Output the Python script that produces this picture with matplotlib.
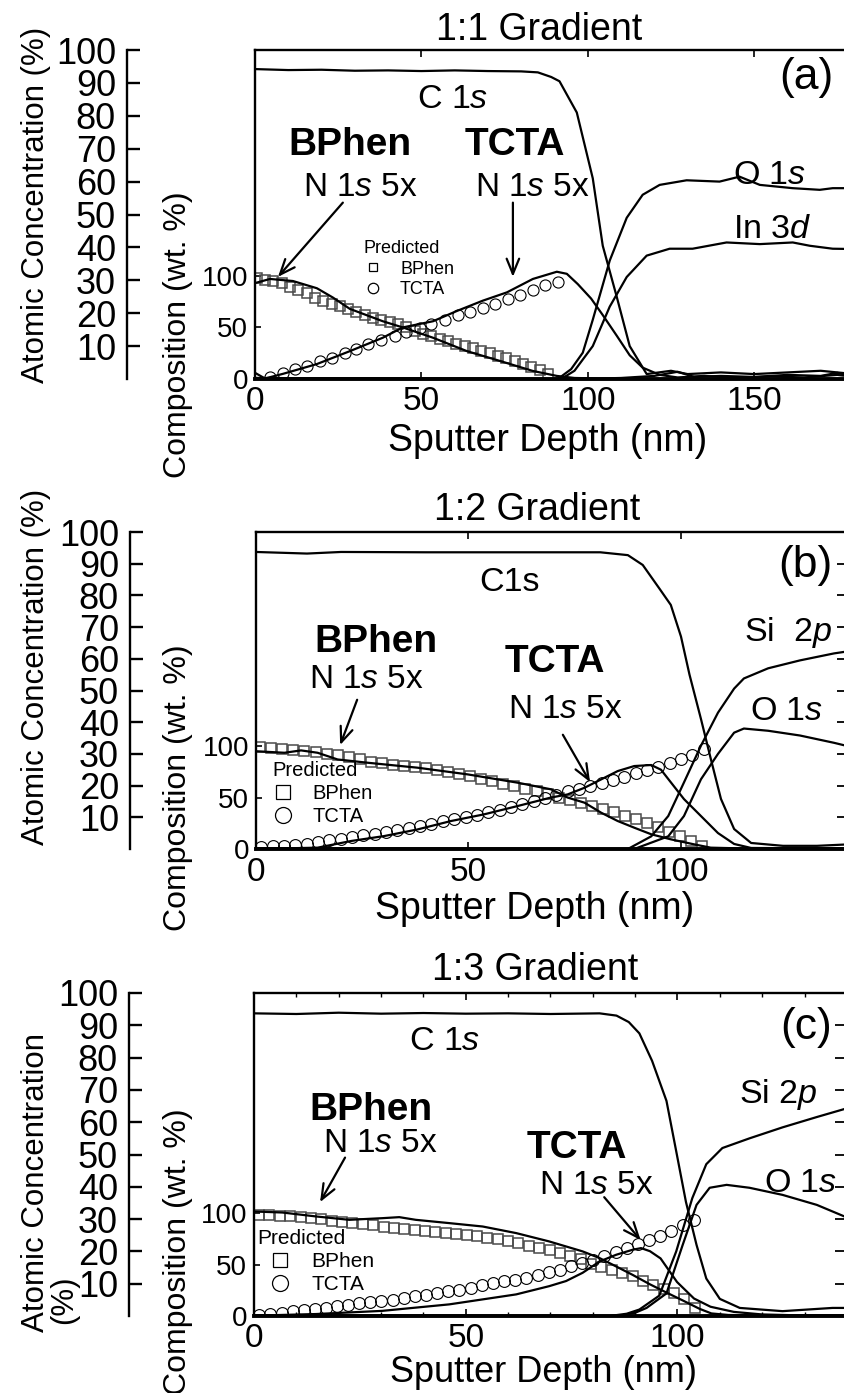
import matplotlib
matplotlib.use('Agg')
import matplotlib.pyplot as plt
from matplotlib.lines import Line2D

plt.rcParams['font.family'] = ['Liberation Sans', 'DejaVu Sans']
plt.rcParams['mathtext.fontset'] = 'custom'
plt.rcParams['mathtext.rm'] = 'Liberation Sans'
plt.rcParams['mathtext.it'] = 'Liberation Sans:italic'
plt.rcParams['mathtext.bf'] = 'Liberation Sans:bold'

# ---------------- panel (a): 1:1 gradient ----------------
# atomic concentration (%) curves
depth_c1s_a = [0, 10, 20, 30, 40, 50, 60, 70, 80, 85, 89, 91.5, 96.7, 101.5, 104.5, 108.7, 112.6, 117.7, 125, 130, 140, 150, 160, 170, 180]
c1s_a = [94.2, 93.9, 94.0, 93.7, 93.8, 93.6, 93.8, 93.6, 93.5, 93.2, 91.8, 90.5, 81, 61, 40.5, 25, 10, 1.5, 2.5, 1.5, 2, 1.5, 2, 2.5, 1.5]
depth_o1s_a = [0, 91, 95, 98.5, 101.5, 106.6, 111.7, 116.5, 121.6, 129.7, 139.6, 145.6, 151.7, 161.6, 169.7, 173.6, 180]
o1s_a = [0.3, 0, 3, 8, 18, 36, 49, 56, 59, 60.4, 60, 61.5, 59, 58, 57.5, 58, 58]
depth_in3d_a = [0, 92, 96, 101.5, 106.6, 111.7, 117.7, 124.6, 131.5, 141.7, 151.7, 161.6, 166.7, 173.6, 180]
in3d_a = [0.3, 0, 2.5, 10, 22, 31, 37.5, 39.6, 39.6, 41.5, 41, 41.5, 40.5, 39.6, 39.5]
# composition (wt. %) curves, N 1s x5
depth_bphen_a = [0, 4.5, 11.4, 18.6, 23.4, 28.5, 38.4, 44.4, 53.5, 63.7, 73.6, 83.5, 90.7, 96, 103.6, 110, 120, 127, 132, 140, 150, 160, 170, 175, 180]
bphen_a = [93, 97, 95, 88, 79, 68, 56, 50, 40, 27, 17.5, 7.8, 3, 1, 0.5, 1, 3, 7, 2, 3, 2, 4, 3, 6, 2]
depth_tcta_a = [0, 3, 8.4, 18.6, 28.5, 38.4, 44.4, 53.5, 60.7, 68.5, 75.7, 83.5, 90.7, 93.7, 97, 101, 104.5, 108.7, 112.6, 116.5, 121.6, 127, 135, 145, 155, 165, 175, 180]
tcta_a = [6, 0.5, 5, 14.5, 27, 40, 50, 56, 66, 76, 84, 97, 104, 102, 92, 78, 62, 42, 23, 11, 4, 1.5, 3, 1, 2.5, 1.5, 4, 2]
# predicted composition
pred_bphen_x_a = [0.5, 3.0, 5.5, 8.0, 10.5, 13.0, 15.5, 18.0, 20.5, 23.0, 25.5, 28.0, 30.5, 33.0, 35.5, 38.0, 40.5, 43.0,
                  45.5, 48.0, 50.5, 53.0, 55.5, 58.0, 60.5, 63.0, 65.5, 68.0, 70.5, 73.0, 75.5, 78.0, 80.5, 83.0, 85.5, 88.0]
pred_bphen_a = [98, 96, 95, 93, 89, 86, 83, 79, 76, 73, 71, 68, 65, 62, 59, 57, 55, 53,
                50, 47, 44, 42, 39, 37, 34, 32, 30, 27, 25, 22, 20, 17, 15, 12, 9, 5]
pred_tcta_x_a = [4.5, 8.5, 12.0, 15.5, 19.5, 23.0, 27.0, 30.5, 34.0, 38.0, 42.0, 45.5,
                 49.5, 53.0, 57.0, 61.0, 64.5, 68.5, 72.0, 76.0, 79.5, 83.5, 87.0, 91.0]
pred_tcta_a = [2, 6, 9.4, 12.6, 17.5, 20.7, 25.5, 29.4, 33.7, 37.6, 41.7, 45.6,
               49.8, 53.7, 57.3, 61.8, 65.4, 69.3, 73.1, 77.4, 81.6, 86.1, 91, 94.5]

# ---------------- panel (b): 1:2 gradient ----------------
depth_c1s_b = [0, 12, 20, 40, 60, 81, 87.5, 91, 95, 97.6, 100, 102, 104.7, 107, 109.4, 112.5, 116.5, 124, 132, 140]
c1s_b = [93.7, 93.2, 93.7, 93.6, 93.6, 93.6, 92.7, 89.6, 82, 77, 67, 55, 41, 28.5, 15.8, 6.3, 1.9, 1, 1, 1.5]
depth_si2p_b = [0, 87.5, 93, 97, 100.7, 104.7, 108.7, 112.5, 114.8, 120.5, 128, 136, 140]
si2p_b = [0.2, 0, 4, 10.4, 21, 32.6, 43, 50.6, 53.8, 57, 59.5, 61.7, 62.5]
depth_o1s_b = [0, 89, 97, 100.7, 104.7, 108.7, 112.5, 114.8, 120.5, 128, 136, 140]
o1s_b = [0.2, 0, 4, 10.4, 22, 30, 36.7, 38, 37.3, 35.8, 33.5, 32.2]
depth_bphen_b = [0, 6.7, 10.6, 14.5, 19.2, 26.3, 38, 49.8, 61.6, 69.4, 73.3, 77.3, 81.2, 85.1, 89, 93, 97.6, 103.1, 107, 115, 125, 140]
bphen_b = [95, 93.5, 95.8, 93.5, 87, 83.8, 79, 72.5, 64.4, 58, 50, 45, 35.3, 27.2, 20.7, 14.3, 9.4, 4.5, 1.3, 0.5, 1, 0.5]
depth_tcta_b = [0, 14.5, 22.4, 30.2, 38, 45.9, 53.7, 61.6, 69.4, 73.3, 77.3, 81.2, 85.1, 89, 93, 95.3, 97, 100.7, 104.7, 108.7, 112.5, 116.5, 140]
tcta_b = [0, 1.3, 7.8, 12.6, 19, 27.2, 33.7, 41.8, 50, 53, 59.5, 67.6, 75.7, 80.6, 81.6, 77, 68, 48.5, 32, 15.5, 4.9, 1, 0.5]
pred_bphen_x_b = [1.0, 3.6, 6.2, 8.8, 11.4, 14.0, 16.6, 19.2, 21.8, 24.4, 27.0, 29.6, 32.2, 34.8, 37.4, 40.0, 42.6, 45.2, 47.8, 50.4, 53.0,
                  55.6, 58.2, 60.8, 63.4, 66.0, 68.6, 71.2, 73.8, 76.4, 79.0, 81.6, 84.2, 86.8, 89.4, 92.0, 94.6, 97.2, 99.8, 102.4, 105.0]
pred_bphen_b = [99, 98, 97, 96.5, 95.5, 94, 92.5, 91, 89, 87, 85, 83.5, 82, 81, 80, 78.5, 77, 75, 73, 71, 68,
                66, 63.5, 61, 58.5, 56, 53, 50, 47.5, 44.5, 41.5, 39, 35.5, 32.5, 29, 25.5, 21, 16.5, 13, 8, 3]
pred_tcta_x_b = [1.2, 3.9, 6.5, 9.2, 11.9, 14.6, 17.2, 19.9, 22.6, 25.2, 27.9, 30.6, 33.2, 35.9, 38.6, 41.2, 43.9, 46.6, 49.3, 51.9,
                 54.6, 57.3, 59.9, 62.6, 65.3, 67.9, 70.6, 73.3, 75.9, 78.6, 81.3, 83.9, 86.6, 89.3, 91.9, 94.6, 97.3, 99.9, 102.6, 105.3]
pred_tcta_b = [2, 2.5, 3, 4, 5, 6.5, 8.5, 10, 11.5, 13.5, 15, 16.5, 18.5, 20, 22, 24.5, 27, 29, 31.5, 33.5,
               36, 38, 40.5, 43.5, 46.5, 49.5, 52.5, 56, 58.5, 61.5, 64, 67, 70, 73.5, 77, 80, 84, 87, 91.5, 97]

# ---------------- panel (c): 1:3 gradient ----------------
depth_c1s_c = [0, 10, 20, 30, 40, 50, 60, 70, 81.6, 85.6, 88.5, 91, 94, 97.4, 99.7, 102, 104.5, 106.8, 110, 114.7, 124.8, 136.6, 140]
c1s_c = [93.7, 93.5, 93.9, 93.6, 93.8, 93.6, 93.7, 93.5, 93.7, 93, 91, 87.5, 79, 66.6, 51, 35.3, 22, 11.6, 5.3, 2.5, 1.5, 2.5, 2.5]
depth_si2p_c = [0, 84, 88, 91, 95.7, 99.7, 103.5, 106.8, 110.6, 117, 124.8, 132.9, 140]
si2p_c = [0.2, 0, 0.7, 2, 6.3, 20, 36.5, 47, 52, 55, 58.4, 61.6, 64.3]
depth_o1s_c = [0, 86, 90, 92.7, 97.4, 101.2, 104.5, 107.6, 111.6, 117, 124.8, 132.9, 140]
o1s_c = [0.2, 0, 1, 2.5, 7, 21.9, 34.4, 39.7, 40.6, 39.7, 37.5, 34.4, 30.5]
depth_bphen_c = [0, 6.7, 14.6, 22.5, 30.3, 34.3, 38.2, 46.1, 54, 61.9, 69.7, 77.6, 81.6, 85.5, 89.4, 93.4, 97.3, 101.3, 105.2, 108, 112, 120, 140]
bphen_c = [101.6, 100.6, 96.8, 93.5, 95.1, 96.1, 93.5, 90.3, 87, 80.6, 72.5, 62.8, 56.3, 48.2, 40, 31, 23, 15, 7, 2.5, 1, 0.5, 0.5]
depth_tcta_c = [0, 14.6, 30.3, 46.1, 61.9, 69.7, 73.7, 77.6, 81.6, 85.5, 89.4, 91.4, 93.5, 96, 99.9, 103.9, 107.8, 113.3, 120, 130, 140]
tcta_c = [0.3, 1.9, 5, 11.3, 21, 29, 34, 42, 53, 59.5, 64.4, 66, 63, 56, 33, 17, 9, 4, 1.5, 0.5, 0.5]
pred_bphen_x_c = [1.2, 3.65, 6.1, 8.55, 11.0, 13.45, 15.9, 18.35, 20.8, 23.25, 25.7, 28.15, 30.6, 33.05, 35.5, 37.95, 40.4, 42.85, 45.3, 47.75, 50.2,
                  52.65, 55.1, 57.55, 60.0, 62.45, 64.9, 67.35, 69.8, 72.25, 74.7, 77.15, 79.6, 82.05, 84.5, 86.95, 89.4, 91.85, 94.3, 96.75, 99.2, 101.65, 104.1]
pred_bphen_c = [98.5, 98, 97.5, 97, 96.5, 95.5, 94, 92, 91, 90, 89, 88, 87, 86, 85, 84, 83, 82, 81, 80, 79,
                77.5, 76, 74.5, 72.5, 70.5, 68.5, 66, 64, 61.5, 58.5, 55, 51, 48, 45, 42, 38.5, 34.5, 30.5, 26.5, 22, 16.5, 8]
pred_tcta_x_c = [1.2, 3.8, 6.5, 9.1, 11.7, 14.4, 17.0, 19.6, 22.2, 24.9, 27.5, 30.1, 32.8, 35.4, 38.0, 40.7, 43.3, 45.9, 48.5, 51.2,
                 53.8, 56.4, 59.1, 61.7, 64.3, 67.0, 69.6, 72.2, 74.8, 77.5, 80.1, 82.7, 85.4, 88.0, 90.6, 93.3, 95.9, 98.5, 101.2, 103.8]
pred_tcta_c = [1.3, 2.3, 3.4, 4.5, 5.6, 6.7, 7.8, 9.4, 11, 12.6, 13.7, 14.8, 15.9, 17.5, 19.1, 20.7, 22.3, 24, 25.6, 27.7,
               29.9, 32, 33.7, 35.4, 37, 39.7, 42.3, 45, 48.2, 51.5, 54.7, 58.5, 62.2, 66, 69.8, 73.5, 77.3, 82.7, 88.1, 93.5]

W, H = 845, 1393
fig = plt.figure(figsize=(W / 100, H / 100), dpi=100)


def ftext(x, y, s, size, **kw):
    # place text by pixel position of the reference picture
    fig.text(x / W, 1 - y / H, s, fontsize=size, ha='center', va='center', **kw)


def panel(box, xmax, comp_top, xpad, atomic, comp, pred, right_ticks, minor):
    left, top, bottom, right = box
    ax = fig.add_axes([left / W, 1 - bottom / H, (right - left) / W, (bottom - top) / H])
    ax.set_xlim(0, xmax)
    ax.set_ylim(0, comp_top)
    ax.set_yticks([0, 50, 100])
    ax.set_xticks([t for t in [0, 50, 100, 150] if t < xmax])
    if minor:
        ax.set_xticks(range(0, int(xmax) + 1, 10), minor=True)
        ax.tick_params(axis='x', which='minor', direction='in', top=True, length=3, width=1)
    ax.tick_params(axis='y', direction='in', length=4, width=1.2, labelsize=20, pad=5)
    ax.tick_params(axis='x', which='major', direction='in', top=True, length=5, width=1.2, labelsize=24, pad=xpad)
    for s in ax.spines.values():
        s.set_linewidth(1.7)
    ax.spines['bottom'].set_linewidth(2.8)

    # N 1s x5 composition traces and predicted composition
    for xs, ys in comp:
        ax.plot(xs, ys, color='k', lw=1.6, zorder=3)
    (bx, by), (tx, ty), sq_ms, ci_ms = pred
    ax.plot(bx, by, ls='none', marker='s', ms=sq_ms, mfc='none', mec='#4a4a4a', mew=1.1, zorder=2)
    ax.plot(tx, ty, ls='none', marker='o', ms=ci_ms, mfc='none', mec='k', mew=0.8, zorder=2)

    # atomic concentration traces on a twin scale 0-100 %
    ax2 = ax.twinx()
    ax2.set_ylim(0, 100)
    for s in ax2.spines.values():
        s.set_visible(False)
    if right_ticks:
        ax2.set_yticks(range(10, 101, 10))
        ax2.tick_params(axis='y', direction='in', length=10, width=1.3, labelright=False)
    else:
        ax2.set_yticks([])
    for xs, ys in atomic:
        ax2.plot(xs, ys, color='k', lw=1.6)
    return ax


def atomic_axis(spine_px, top, bottom):
    aa = fig.add_axes([spine_px / W, 1 - bottom / H, 0.0001, (bottom - top) / H])
    aa.set_ylim(0, 100)
    aa.set_yticks(range(10, 101, 10))
    aa.set_xticks([])
    for s in ['top', 'right', 'bottom']:
        aa.spines[s].set_visible(False)
    aa.spines['left'].set_linewidth(1.7)
    aa.patch.set_visible(False)
    aa.tick_params(axis='y', direction='in', length=9, width=1.7, labelsize=26, pad=8)
    return aa


def legend(ax, x, y, size, sq_ms, ci_ms, hl, hpad):
    h = [Line2D([], [], ls='none', marker='s', ms=sq_ms, mfc='none', mec='k', mew=0.9),
         Line2D([], [], ls='none', marker='o', ms=ci_ms, mfc='none', mec='k', mew=0.9)]
    ax.legend(h, ['BPhen', 'TCTA'], title='Predicted', loc='upper left',
              bbox_to_anchor=(x / W, 1 - y / H), bbox_transform=fig.transFigure,
              frameon=False, borderpad=0, borderaxespad=0, fontsize=size, title_fontsize=size,
              handlelength=hl, handletextpad=hpad, labelspacing=0.2, alignment='left')


def arrow(ax, tip, tail):
    ax.annotate('', xy=tip, xytext=tail,
                arrowprops=dict(arrowstyle='->,head_length=1.1,head_width=0.45', lw=1.6, color='k',
                                shrinkA=0, shrinkB=0), zorder=5)


N1S = r'N 1$\mathit{s}$ 5x'

# ---- (a)
ax_a = panel((255, 50, 379, 854), 180, 319, 5,
             [(depth_c1s_a, c1s_a), (depth_o1s_a, o1s_a), (depth_in3d_a, in3d_a)],
             [(depth_bphen_a, bphen_a), (depth_tcta_a, tcta_a)],
             ((pred_bphen_x_a, pred_bphen_a), (pred_tcta_x_a, pred_tcta_a), 6.5, 8),
             False, False)
atomic_axis(127, 50, 379)
legend(ax_a, 364, 240, 13, 6, 7.5, 1.0, 1.0)
arrow(ax_a, (6.9, 99), (26.4, 171))
arrow(ax_a, (77.5, 99), (77.5, 171))
ftext(539, 30, '1:1 Gradient', 27)
ftext(453, 100, r'C 1$\mathit{s}$', 24.5)
ftext(350, 145, 'BPhen', 28, fontweight='bold')
ftext(515, 145, 'TCTA', 28, fontweight='bold')
ftext(360, 187, N1S, 24)
ftext(532, 187, N1S, 24)
ftext(806, 78, '(a)', 32)
ftext(770, 175, r'O 1$\mathit{s}$', 24.5)
ftext(772, 230, r'In 3$\mathit{d}$', 24.5)
ftext(548, 441, 'Sputter Depth (nm)', 27)
ftext(178, 335, 'Composition (wt. %)', 23, rotation=90)
ftext(36, 205, 'Atomic Concentration (%)', 22.5, rotation=90)

# ---- (b)
ax_b = panel((256, 532, 849, 851), 140, 308, 6,
             [(depth_c1s_b, c1s_b), (depth_si2p_b, si2p_b), (depth_o1s_b, o1s_b)],
             [(depth_bphen_b, bphen_b), (depth_tcta_b, tcta_b)],
             ((pred_bphen_x_b, pred_bphen_b), (pred_tcta_x_b, pred_tcta_b), 7, 8.5),
             True, False)
atomic_axis(130, 532, 849)
legend(ax_b, 272, 761, 14.5, 10, 11.5, 1.1, 0.9)
arrow(ax_b, (19.8, 101), (23.8, 145))
arrow(ax_b, (78.6, 65), (72.2, 111))
ftext(537, 510, '1:2 Gradient', 27)
ftext(510, 582, 'C1s', 24.5)
ftext(376, 642, 'BPhen', 28, fontweight='bold')
ftext(366, 680, N1S, 24)
ftext(555, 662, 'TCTA', 28, fontweight='bold')
ftext(565, 710, N1S, 24)
ftext(805, 565, '(b)', 32)
ftext(788, 633, r'Si  2$\mathit{p}$', 24.5)
ftext(787, 712, r'O 1$\mathit{s}$', 24.5)
ftext(535, 909, 'Sputter Depth (nm)', 27)
ftext(178, 788, 'Composition (wt. %)', 23, rotation=90)
ftext(36, 667, 'Atomic Concentration (%)', 22.5, rotation=90)

# ---- (c)
ax_c = panel((254, 993, 1316, 849), 140.5, 314, 5,
             [(depth_c1s_c, c1s_c), (depth_si2p_c, si2p_c), (depth_o1s_c, o1s_c)],
             [(depth_bphen_c, bphen_c), (depth_tcta_c, tcta_c)],
             ((pred_bphen_x_c, pred_bphen_c), (pred_tcta_x_c, pred_tcta_c), 7, 8.5),
             True, True)
atomic_axis(129, 993, 1316)
legend(ax_c, 257, 1229, 15, 10, 11.5, 2.2, 0.4)
arrow(ax_c, (15.6, 110.7), (21.5, 154))
arrow(ax_c, (91.3, 73.8), (82.7, 115.5))
ftext(535, 970, '1:3 Gradient', 27)
ftext(445, 1042, r'C 1$\mathit{s}$', 24.5)
ftext(371, 1110, 'BPhen', 28, fontweight='bold')
ftext(380, 1143, N1S, 24)
ftext(577, 1148, 'TCTA', 28, fontweight='bold')
ftext(596, 1185, N1S, 24)
ftext(806, 1028, '(c)', 32)
ftext(778, 1095, r'Si 2$\mathit{p}$', 24.5)
ftext(801, 1183, r'O 1$\mathit{s}$', 24.5)
ftext(543, 1373, 'Sputter Depth (nm)', 26)
ftext(178, 1252, 'Composition (wt. %)', 23, rotation=90)
ftext(36, 1183, 'Atomic Concentration', 22.5, rotation=90)
ftext(64, 1300, '(%)', 22.5, rotation=90)

fig.savefig('out.png', dpi=100)
